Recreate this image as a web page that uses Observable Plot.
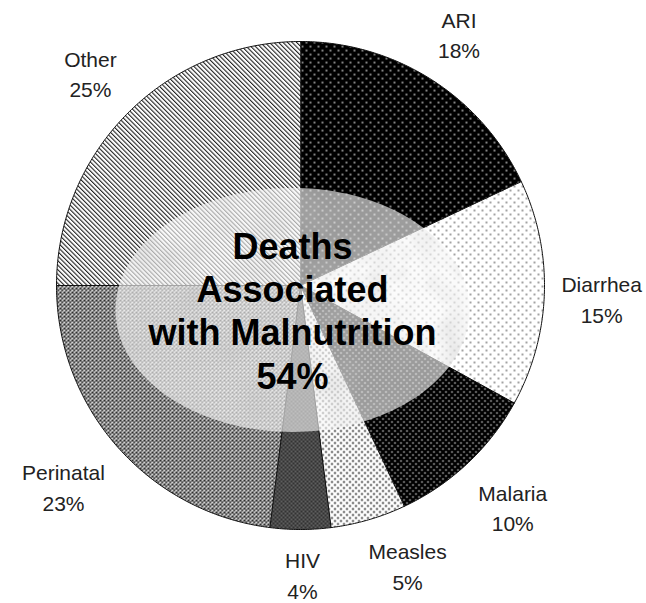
<!DOCTYPE html>
<html>
<head>
<meta charset="utf-8">
<script src="https://cdn.jsdelivr.net/npm/d3@7"></script>
<script src="https://cdn.jsdelivr.net/npm/@observablehq/plot@0.6"></script>
<style>
  html, body { margin: 0; padding: 0; background: #fff; }
  #chart { width: 646px; height: 603px; overflow: hidden; }
  #defs { position: absolute; width: 0; height: 0; }
  .marble path { filter: url(#marble); }
</style>
</head>
<body>
<svg id="defs" width="0" height="0" aria-hidden="true">
  <defs>
    <pattern id="p-ari" width="8" height="8" patternUnits="userSpaceOnUse">
      <rect width="8" height="8" fill="#000"/>
      <circle cx="2" cy="2" r="0.85" fill="#fff"/>
      <circle cx="6" cy="6" r="0.85" fill="#fff"/>
    </pattern>
    <pattern id="p-diarrhea" width="8" height="8" patternUnits="userSpaceOnUse">
      <rect width="8" height="8" fill="#fff"/>
      <circle cx="2" cy="2" r="0.7" fill="#000"/>
      <circle cx="6" cy="6" r="0.7" fill="#000"/>
    </pattern>
    <pattern id="p-malaria" width="6" height="6" patternUnits="userSpaceOnUse">
      <rect width="6" height="6" fill="#000"/>
      <circle cx="1.5" cy="1.5" r="0.8" fill="#fff"/>
      <circle cx="4.5" cy="4.5" r="0.8" fill="#fff"/>
    </pattern>
    <pattern id="p-measles" width="6" height="6" patternUnits="userSpaceOnUse">
      <rect width="6" height="6" fill="#fff"/>
      <circle cx="1.5" cy="1.5" r="0.9" fill="#000"/>
      <circle cx="4.5" cy="4.5" r="0.9" fill="#000"/>
    </pattern>
    <pattern id="p-hiv" width="4" height="4" patternUnits="userSpaceOnUse">
      <rect width="4" height="4" fill="#333"/>
      <circle cx="1" cy="1" r="0.7" fill="#aaa"/>
      <circle cx="3" cy="3" r="0.7" fill="#aaa"/>
    </pattern>
    <pattern id="p-perinatal" width="4" height="4" patternUnits="userSpaceOnUse">
      <rect width="4" height="4" fill="#fff"/>
      <path d="M0,0L4,4M4,0L0,4" stroke="#222" stroke-width="1.05"/>
    </pattern>
    <pattern id="p-other" width="3.2" height="3.2" patternUnits="userSpaceOnUse" patternTransform="rotate(-45)">
      <rect width="3.2" height="3.2" fill="#fff"/>
      <rect width="1.1" height="3.2" fill="#222"/>
    </pattern>
    <filter id="marble" x="0" y="0" width="1" height="1">
      <feTurbulence type="fractalNoise" baseFrequency="0.025" numOctaves="3" seed="4" result="noise"/>
      <feColorMatrix in="noise" type="matrix"
        values="0 0 0 0 0.45  0 0 0 0 0.45  0 0 0 0 0.45  0 0 0 -0.9 0.55" result="tint"/>
      <feComposite in="tint" in2="SourceGraphic" operator="in" result="clipped"/>
      <feMerge><feMergeNode in="SourceGraphic"/><feMergeNode in="clipped"/></feMerge>
    </filter>
  </defs>
</svg>
<div id="chart"></div>
<script>
// ---- data ----
const causes = ["ARI", "Diarrhea", "Malaria", "Measles", "HIV", "Perinatal", "Other"];
const shares = [18, 15, 10, 5, 4, 23, 25];
const centerTitle = ["Deaths", "Associated", "with Malnutrition", "54%"];

// ---- styles / layout ----
const fills = {
  ARI: "url(#p-ari)", Diarrhea: "url(#p-diarrhea)", Malaria: "url(#p-malaria)",
  Measles: "url(#p-measles)", HIV: "url(#p-hiv)", Perinatal: "url(#p-perinatal)",
  Other: "url(#p-other)"
};
const labelRadius = 1.235;
// small pixel nudges for label placement
const labelNudge = {
  ARI: [-3, 2], Diarrhea: [0, 3], Malaria: [6, 1], Measles: [23, -10],
  HIV: [2, -13], Perinatal: [-11, 1], Other: [3, 0]
};
const ellipse = {cx: -0.033, cy: -0.1, rx: 0.725, ry: 0.5};
const R = 244, CX = 300, CY = 285;

const table = causes.map((c, i) => ({cause: c, share: shares[i]}));
const arcs = d3.pie().sort(null).value(d => d.share)(table);

function slicePoints(a) {
  const pts = [{x: 0, y: 0}];
  const n = Math.max(8, Math.ceil((a.endAngle - a.startAngle) / 0.01));
  for (let k = 0; k <= n; k++) {
    const t = a.startAngle + (a.endAngle - a.startAngle) * k / n;
    pts.push({x: Math.sin(t), y: Math.cos(t)});
  }
  return pts;
}

const ellipsePts = d3.range(0, 361, 2).map(deg => {
  const t = deg * Math.PI / 180;
  return {x: ellipse.cx + ellipse.rx * Math.cos(t), y: ellipse.cy + ellipse.ry * Math.sin(t)};
});

const mid = a => (a.startAngle + a.endAngle) / 2;

const marks = [];
arcs.forEach(a => {
  marks.push(Plot.line(slicePoints(a), {
    x: "x", y: "y", curve: "linear-closed",
    fill: fills[a.data.cause], stroke: "#111", strokeWidth: 1
  }));
});
marks.push(Plot.line(ellipsePts, {
  x: "x", y: "y", curve: "linear-closed",
  fill: "#f8f8f8", fillOpacity: 0.62, stroke: "none", className: "marble"
}));
marks.push(Plot.text([centerTitle.join("\n")], {
  x: () => ellipse.cx, y: () => ellipse.cy,
  text: d => d,
  fontSize: 36, fontWeight: "bold", lineHeight: 1.2,
  fontFamily: "Liberation Sans, Arial, sans-serif", fill: "#000"
}));
marks.push(Plot.text(arcs, {
  x: a => Math.sin(mid(a)) * labelRadius + labelNudge[a.data.cause][0] / R,
  y: a => Math.cos(mid(a)) * labelRadius - labelNudge[a.data.cause][1] / R,
  text: a => `${a.data.cause}\n${a.data.share}%`,
  fontSize: 21, lineHeight: 1.45,
  fontFamily: "Liberation Sans, Arial, sans-serif", fill: "#222"
}));

const chart = Plot.plot({
  width: 646, height: 603,
  margin: 0,
  x: {domain: [-1, 1], range: [CX - R, CX + R], axis: null},
  y: {domain: [-1, 1], range: [CY + R, CY - R], axis: null},
  style: {background: "#fff"},
  marks
});
document.getElementById("chart").appendChild(chart);
</script>
</body>
</html>
